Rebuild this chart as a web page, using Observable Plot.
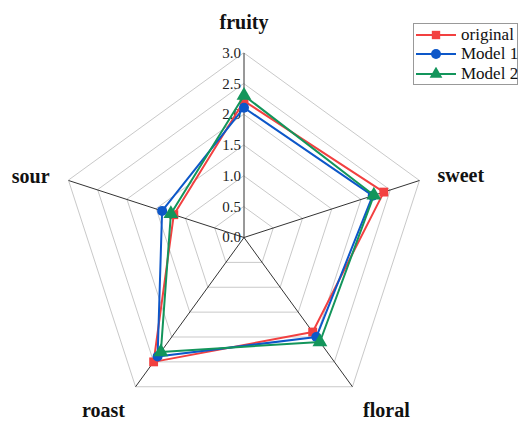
<!DOCTYPE html>
<html><head><meta charset="utf-8">
<script src="https://cdn.jsdelivr.net/npm/d3@7"></script>
<script src="https://cdn.jsdelivr.net/npm/@observablehq/plot@0.6"></script>
<style>
body{margin:0;background:#fff;}
#wrap{position:relative;width:523px;height:421px;overflow:hidden;}
#legend{position:absolute;left:413px;top:23px;width:105px;height:62px;border:1px solid #999;background:#fff;box-sizing:border-box;font-family:"Liberation Serif",serif;font-size:17px;color:#111;padding-top:1px;white-space:nowrap;}
#legend .row{display:flex;align-items:center;height:19.5px;white-space:nowrap;}
#legend svg{display:block;margin-left:1px;margin-right:4px;flex:none;}
#legend span{flex:none;white-space:nowrap;}
</style>
</head><body><div id="wrap"></div>
<script>
const axesNames = ["fruity","sweet","floral","roast","sour"];
const original = [2.22, 2.39, 1.90, 2.50, 1.20];
const model1   = [2.11, 2.20, 2.00, 2.39, 1.40];
const model2   = [2.31, 2.22, 2.10, 2.30, 1.25];
const seriesNames = ["original","Model 1","Model 2"];
const seriesValues = [original, model1, model2];
const colors = ["#f24040","#0d57c9","#13955b"];
const symbols = ["square","circle","triangle"];
const tickValues = [0, 0.5, 1.0, 1.5, 2.0, 2.5, 3.0];
const tickLabels = ["0.0","0.5","1.0","1.5","2.0","2.5","3.0"];
const maxVal = 3;

const ang = i => i * 2 * Math.PI / axesNames.length;
const px = (i, r) => r * Math.sin(ang(i));
const py = (i, r) => r * Math.cos(ang(i));

const rings = [];
tickValues.filter(t => t > 0).forEach(t => axesNames.forEach((a, i) => rings.push({t, x: px(i, t), y: py(i, t)})));
const spokes = axesNames.map((a, i) => ({x1: 0, y1: 0, x2: px(i, maxVal), y2: py(i, maxVal), name: a}));
const pts = [];
seriesNames.forEach((s, k) => seriesValues[k].forEach((v, i) => pts.push({series: s, k, axis: axesNames[i], x: px(i, v), y: py(i, v)})));
const tickData = tickValues.map((t, j) => ({x: 0, y: t, label: tickLabels[j]}));

const labelFont = {fontFamily: "Liberation Serif, serif", fontSize: 20, fontWeight: "bold", fill: "#111"};
const labelMark = (i, opts) => Plot.text([spokes[i]], {x: "x2", y: "y2", text: "name", ...labelFont, ...opts});

const marks = [
  Plot.line(rings, {x: "x", y: "y", z: "t", curve: "linear-closed", stroke: "#c9c9c9", strokeWidth: 1}),
  Plot.link(spokes, {x1: "x1", y1: "y1", x2: "x2", y2: "y2", stroke: "#333", strokeWidth: 1}),
  Plot.text(tickData, {x: "x", y: "y", text: "label", textAnchor: "end", dx: -3, fontFamily: "Liberation Serif, serif", fontSize: 15, fill: "#222"}),
  labelMark(0, {textAnchor: "middle", dy: -30}),
  labelMark(1, {textAnchor: "start", dx: 18, dy: -5}),
  labelMark(2, {textAnchor: "middle", dx: 34, dy: 24}),
  labelMark(3, {textAnchor: "middle", dx: -32, dy: 24}),
  labelMark(4, {textAnchor: "end", dx: -19, dy: -4}),
];
seriesNames.forEach((s, k) => {
  const d = pts.filter(p => p.k === k);
  marks.push(Plot.line(d, {x: "x", y: "y", curve: "linear-closed", stroke: colors[k], strokeWidth: 2}));
  marks.push(Plot.dot(d, {x: "x", y: "y", symbol: () => symbols[k], r: k === 2 ? 5.5 : 5, fill: colors[k], stroke: "none"}));
});

const chart = Plot.plot({
  width: 523, height: 421, margin: 0,
  x: {domain: [0, 3], range: [243.5, 428], axis: null},
  y: {domain: [0, 3], range: [237, 52.5], axis: null},
  symbol: {domain: symbols, range: symbols},
  style: {background: "#fff"},
  marks
});
const wrap = document.getElementById("wrap");
wrap.appendChild(chart);

const legend = document.createElement("div");
legend.id = "legend";
seriesNames.forEach((s, k) => {
  const row = document.createElement("div");
  row.className = "row";
  const svg = d3.create("svg").attr("width", 42).attr("height", 14);
  svg.append("line").attr("x1", 1).attr("x2", 41).attr("y1", 7).attr("y2", 7).attr("stroke", colors[k]).attr("stroke-width", 2);
  const sym = k === 0 ? d3.symbolSquare : k === 1 ? d3.symbolCircle : d3.symbolTriangle;
  svg.append("path").attr("d", d3.symbol(sym, k === 1 ? 78 : 70)()).attr("transform", "translate(21,7)").attr("fill", colors[k]);
  row.appendChild(svg.node());
  const t = document.createElement("span");
  t.textContent = s;
  row.appendChild(t);
  legend.appendChild(row);
});
wrap.appendChild(legend);
</script>
</body></html>
